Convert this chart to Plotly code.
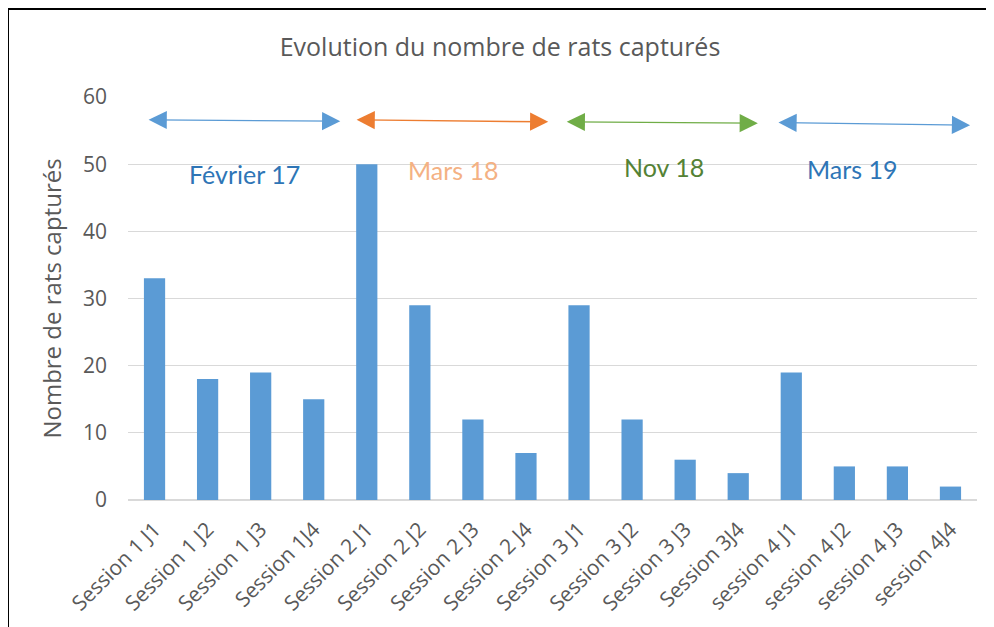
import plotly.graph_objects as go

categories = ["Session 1 J1", "Session 1 J2", "Session 1 J3", "Session 1J4",
              "Session 2 J1", "Session 2 J2", "Session 2 J3", "Session 2 J4",
              "Session 3 J1", "Session 3 J2", "Session 3 J3", "Session 3J4",
              "session 4 J1", "session 4 J2", "session 4 J3", "session 4J4"]
values = [33, 18, 19, 15, 50, 29, 12, 7, 29, 12, 6, 4, 19, 5, 5, 2]

period_labels = ["Février 17", "Mars 18", "Nov 18", "Mars 19"]
period_start = [-0.14, 3.78, 7.74, 11.73]
period_end = [3.5, 7.42, 11.37, 15.37]
period_y_start = [56.6, 56.6, 56.3, 56.2]
period_y_end = [56.4, 56.3, 56.1, 55.8]
label_x = [1.7, 5.64, 9.6, 13.15]
label_y = [48.6, 49.2, 49.6, 49.3]
arrow_colors = ["#5B9BD5", "#ED7D31", "#70AD47", "#5B9BD5"]
label_colors = ["#2E75B6", "#F4B183", "#548235", "#2E75B6"]

fig = go.Figure(go.Bar(x=list(range(len(categories))), y=values,
                       marker=dict(color="#5B9BD5", line=dict(width=0)),
                       width=0.4))

annotations = []
for i in range(4):
    annotations.append(dict(x=period_end[i], y=period_y_end[i],
                            ax=period_start[i], ay=period_y_start[i],
                            xref="x", yref="y", axref="x", ayref="y",
                            text="", showarrow=True, arrowside="end+start",
                            arrowhead=2, arrowsize=2.6, arrowwidth=1.4,
                            arrowcolor=arrow_colors[i]))
    annotations.append(dict(x=label_x[i], y=label_y[i], xref="x", yref="y",
                            text=period_labels[i], showarrow=False,
                            font=dict(family="Lato", size=25, color=label_colors[i])))

# the page body adds an 8px offset; figure coordinates are set accordingly
fig.update_layout(
    width=986, height=619,
    margin=dict(l=120, r=17, t=89, b=127),
    paper_bgcolor="white", plot_bgcolor="white",
    title=dict(text="Evolution du nombre de rats capturés", x=(500 - 8) / 986,
               xanchor="center", y=1 - 39 / 619, yanchor="middle",
               font=dict(family="Open Sans", size=25, color="#595959")),
    xaxis=dict(range=[-0.5, 15.5], tickmode="array", tickvals=list(range(16)),
               ticktext=categories, tickangle=-45, showgrid=False,
               showline=False, ticks="", zeroline=False, automargin=False,
               ticklabelstandoff=12,
               tickfont=dict(family="Open Sans", size=21, color="#595959")),
    yaxis=dict(range=[0, 60], dtick=10, showgrid=True, gridcolor="#D9D9D9",
               gridwidth=1, zeroline=True, zerolinecolor="#D9D9D9", zerolinewidth=1.5,
               ticks="", ticklabelstandoff=20, automargin=False,
               tickfont=dict(family="Open Sans", size=21, color="#595959"),
               title=dict(text="Nombre de rats capturés", standoff=14,
                          font=dict(family="Open Sans", size=24, color="#595959"))),
    annotations=annotations,
    shapes=[
        dict(type="line", xref="paper", yref="paper",
             x0=(0 - 120) / 849, x1=(0 - 120) / 849,
             y0=-0.5, y1=(492 - 1) / 403,
             line=dict(color="black", width=2)),
        dict(type="line", xref="paper", yref="paper",
             x0=(0 - 120) / 849, x1=(1000 - 120) / 849,
             y0=(492 - 1) / 403, y1=(492 - 1) / 403,
             line=dict(color="black", width=2)),
    ],
    showlegend=False,
)

fig.write_html("out.html")
